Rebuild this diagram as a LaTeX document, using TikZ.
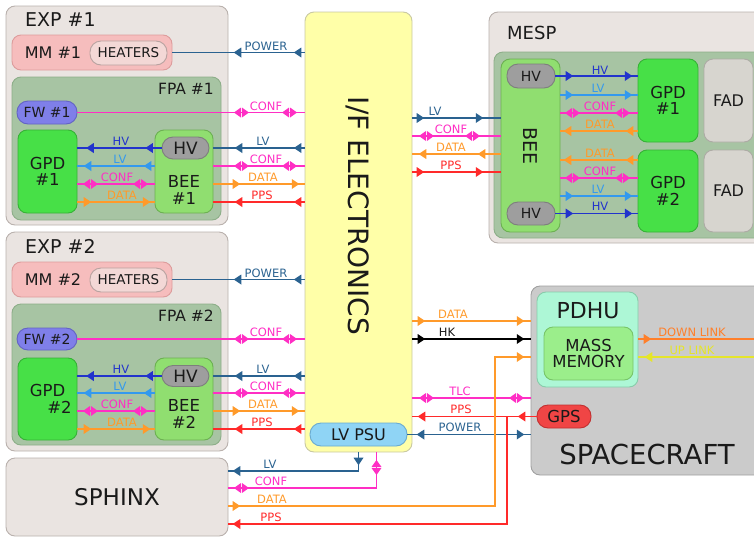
\documentclass[tikz,border=0pt]{standalone}
\usepackage{fontspec}
\setmainfont{DejaVu Sans}
\usetikzlibrary{decorations.markings}
\definecolor{cexp}{HTML}{EAE4E1}\definecolor{cexpd}{HTML}{B9B1AD}
\definecolor{cmm}{HTML}{F6BDBD}\definecolor{cmmd}{HTML}{DD9C9C}
\definecolor{cheat}{HTML}{F3D8D6}\definecolor{cheatd}{HTML}{B8A2A0}
\definecolor{cfpa}{HTML}{A7C4A3}\definecolor{cfpad}{HTML}{8DAE89}
\definecolor{cfw}{HTML}{7F7FE9}\definecolor{cfwd}{HTML}{6363C4}
\definecolor{cgpd}{HTML}{47E047}\definecolor{cgpdd}{HTML}{36B236}
\definecolor{cbee}{HTML}{90DE70}\definecolor{cbeed}{HTML}{6CB052}
\definecolor{chvb}{HTML}{9E9E9E}\definecolor{chvbd}{HTML}{7E7E7E}
\definecolor{cife}{HTML}{FFFFA8}\definecolor{cifed}{HTML}{C9C9A2}
\definecolor{cpsu}{HTML}{8FD4F5}\definecolor{cpsud}{HTML}{6AAAD0}
\definecolor{cfad}{HTML}{D7D5CF}\definecolor{cfadd}{HTML}{ADABA5}
\definecolor{csc}{HTML}{CBCBCB}\definecolor{cscd}{HTML}{A0A0A0}
\definecolor{cpdhu}{HTML}{ADF7D6}\definecolor{cpdhud}{HTML}{88CCAA}
\definecolor{cmass}{HTML}{9BEE8B}\definecolor{cmassd}{HTML}{77C468}
\definecolor{cgps}{HTML}{F04545}\definecolor{cgpsd}{HTML}{C03030}
\definecolor{lpw}{HTML}{2A6290}\definecolor{lhv}{HTML}{2233CC}
\definecolor{llv}{HTML}{3399EE}\definecolor{lcf}{HTML}{FF2EC4}
\definecolor{ldt}{HTML}{FF9A2A}\definecolor{lpp}{HTML}{FF2A2A}
\definecolor{ldl}{HTML}{FF7F2A}\definecolor{lul}{HTML}{E5E52A}
\definecolor{ctxt}{HTML}{1A1A1A}
\newcommand\arF{\fill (3.8pt,0pt) -- (-3.8pt,5pt) -- (-3.8pt,-5pt) -- cycle;}
\newcommand\arB{\fill (-3.8pt,0pt) -- (3.8pt,5pt) -- (3.8pt,-5pt) -- cycle;}
\newcommand\arD{\fill (7.5pt,0pt) -- (0.5pt,5pt) -- (0.5pt,-5pt) -- cycle; \fill (-7.5pt,0pt) -- (-0.5pt,5pt) -- (-0.5pt,-5pt) -- cycle;}
\newcommand\fs[1]{\fontsize{#1}{#1}\selectfont}
\begin{document}
\begin{tikzpicture}[x=1pt,y=-1pt,
  box/.style={draw, rounded corners=9pt, inner sep=0pt, line width=0.9pt, text=ctxt},
  pill/.style={draw, rounded corners=11pt, inner sep=0pt, line width=0.9pt, text=ctxt},
  ln/.style={line width=1.8pt},
  mk/.style={postaction={decorate}, decoration={markings,#1}},
  lbl/.style={font=\fs{11.5}, anchor=south, inner sep=0pt},
  ttl/.style={inner sep=0pt, text=ctxt},
  pwl/.style={ln, color=lpw}, hvl/.style={ln, color=lhv}, lvl/.style={ln, color=llv},
  cfl/.style={ln, color=lcf}, dtl/.style={ln, color=ldt}, ppl/.style={ln, color=lpp},
  hkl/.style={ln, color=black}, dll/.style={ln, color=ldl}, ull/.style={ln, color=lul}]
\useasboundingbox (0,0) rectangle (754,536);
\clip (0,0) rectangle (754,536);
\foreach \v in {53,113,148,166,184,202,280,339,376,393,411,429,77,95,113,118,131,136,154,160,172,178,196,213,321,339,357,398,416,434,471,488,506,524}
  \coordinate (y\v) at (0,\v);
\coordinate (xdv) at (495,0);
\coordinate (ppsj) at (507,416);
\coordinate (dlend) at (754,339);
\coordinate (ulend) at (754,357);
% ---------- boxes ----------
\node[box, fill=cexp, draw=cexpd, minimum width=222, minimum height=219] (exp1) at (117,115.5) {};
\node[ttl, anchor=west, font=\fs{19}] (exp1l) at (25,20) {EXP \#1};
\node[box, fill=cmm, draw=cmmd, minimum width=160, minimum height=35] (mm1) at (92,52.5) {};
\node[ttl, font=\fs{16}] (mm1l) at (53,53) {MM \#1};
\node[pill, fill=cheat, draw=cheatd, minimum width=77, minimum height=24] (heat1) at (128.5,53) {\fs{13.5}HEATERS};
\node[box, fill=cfpa, draw=cfpad, minimum width=209, minimum height=143] (fpa1) at (116.5,148.5) {};
\node[ttl, anchor=east, font=\fs{15.5}] (fpa1l) at (214,89) {FPA \#1};
\node[pill, fill=cfw, draw=cfwd, minimum width=60, minimum height=23] (fw1) at (47,112.5) {\fs{14}FW \#1};
\node[box, fill=cgpd, draw=cgpdd, minimum width=59, minimum height=83, align=center, font=\fs{16.5}] (gpd1) at (47.5,171.5) {GPD\\\#1};
\node[box, fill=cbee, draw=cbeed, minimum width=58, minimum height=83] (bee1) at (184,171.5) {};
\node[pill, fill=chvb, draw=chvbd, minimum width=47, minimum height=22] (hv1) at (185.5,148) {\fs{17}HV};
\node[ttl, align=center, font=\fs{16.5}] (bee1t) at (184,190) {BEE\\\#1};
%
\node[box, fill=cexp, draw=cexpd, minimum width=222, minimum height=219] (exp2) at (117,341.5) {};
\node[ttl, anchor=west, font=\fs{19}] (exp2l) at (25,246) {EXP \#2};
\node[box, fill=cmm, draw=cmmd, minimum width=160, minimum height=35] (mm2) at (92,279.5) {};
\node[ttl, font=\fs{16}] (mm2l) at (53,280) {MM \#2};
\node[pill, fill=cheat, draw=cheatd, minimum width=77, minimum height=24] (heat2) at (128.5,280) {\fs{13.5}HEATERS};
\node[box, fill=cfpa, draw=cfpad, minimum width=209, minimum height=141] (fpa2) at (116.5,374.5) {};
\node[ttl, anchor=east, font=\fs{15.5}] (fpa2l) at (214,316) {FPA \#2};
\node[pill, fill=cfw, draw=cfwd, minimum width=60, minimum height=22] (fw2) at (47,339) {\fs{14}FW \#2};
\node[box, fill=cgpd, draw=cgpdd, minimum width=59, minimum height=82, align=center, font=\fs{16.5}] (gpd2) at (47.5,399) {GPD\\\hspace*{24pt}\#2};
\node[box, fill=cbee, draw=cbeed, minimum width=58, minimum height=82] (bee2) at (184,399) {};
\node[pill, fill=chvb, draw=chvbd, minimum width=47, minimum height=21] (hv2) at (185.5,376) {\fs{17}HV};
\node[ttl, align=center, font=\fs{16.5}] (bee2t) at (184,414) {BEE\\\#2};
%
\node[box, fill=cexp, draw=cexpd, minimum width=222, minimum height=78] (sphinx) at (117,497) {\fs{23}SPHINX};
%
\node[box, fill=cife, draw=cifed, minimum width=107, minimum height=440] (ife) at (358.5,232) {};
\node[ttl, rotate=-90, font=\fs{28}] (ifet) at (358,216) {I/F ELECTRONICS};
\node[pill, fill=cpsu, draw=cpsud, minimum width=97, minimum height=23] (lvpsu) at (358.5,434.5) {\fs{16}LV PSU};
%
\node[box, fill=cexp, draw=cexpd, minimum width=281, minimum height=231] (mesp) at (629.5,127.5) {};
\node[ttl, anchor=west, font=\fs{18}] (mespl) at (507,33) {MESP};
\node[box, fill=cfpa, draw=cfpad, minimum width=276, minimum height=186] (mespin) at (632,145) {};
\node[box, fill=cbee, draw=cbeed, minimum width=59, minimum height=173] (mbee) at (530.5,145.5) {};
\node[ttl, rotate=-90, font=\fs{19}] (mbeet) at (530,146) {BEE};
\node[pill, fill=chvb, draw=chvbd, minimum width=48, minimum height=24] (mhv1) at (531,76) {\fs{14}HV};
\node[pill, fill=chvb, draw=chvbd, minimum width=48, minimum height=23] (mhv2) at (531,213.5) {\fs{14}HV};
\node[box, fill=cgpd, draw=cgpdd, minimum width=60, minimum height=83, align=center, font=\fs{16.5}] (mgpd1) at (668,100.5) {GPD\\\#1};
\node[box, fill=cgpd, draw=cgpdd, minimum width=60, minimum height=82, align=center, font=\fs{16.5}] (mgpd2) at (668,191) {GPD\\\#2};
\node[box, fill=cfad, draw=cfadd, minimum width=49, minimum height=83, font=\fs{16}] (fad1) at (728.5,100.5) {FAD};
\node[box, fill=cfad, draw=cfadd, minimum width=49, minimum height=82, font=\fs{16}] (fad2) at (728.5,191) {FAD};
%
\node[box, fill=csc, draw=cscd, minimum width=239, minimum height=189] (sc) at (650.5,380.5) {};
\node[ttl, font=\fs{27.5}] (scl) at (647,454) {SPACECRAFT};
\node[box, fill=cpdhu, draw=cpdhud, minimum width=101, minimum height=95] (pdhu) at (587.5,339.5) {};
\node[ttl, font=\fs{22}] (pdhul) at (588,311) {PDHU};
\node[box, fill=cmass, draw=cmassd, minimum width=89, minimum height=53, align=center, font=\fs{16.5}] (mass) at (588.5,353.5) {MASS\\MEMORY};
\node[pill, fill=cgps, draw=cgpsd, minimum width=54, minimum height=23, font=\fs{16.5}] (gps) at (564,416.5) {GPS};
% ---------- EXP #1 connectors ----------
\draw[pwl, mk={mark=at position 65pt with {\arB}, mark=at position -7pt with {\arB}}] (mm1.east) -- (mm1.east -| ife.west);
\node[lbl, text=lpw] (t1) at (266,50.5) {POWER};
\draw[cfl, mk={mark=at position 164pt with {\arD}, mark=at position -15pt with {\arD}}] (fw1.east) -- (fw1.east -| ife.west);
\node[lbl, text=lcf] (t2) at (266,110.5) {CONF};
\draw[hvl, mk={mark=at position 12.5pt with {\arB}, mark=at position -12.5pt with {\arB}}] (gpd1.east |- hv1.west) -- (hv1.west);
\node[lbl, text=lhv] (t3) at (121,145.5) {HV};
\draw[lvl, mk={mark=at position 10pt with {\arB}, mark=at position -7pt with {\arB}}] (gpd1.east |- y166) -- (bee1.west |- y166);
\node[lbl, text=llv] (t4) at (120,163.5) {LV};
\draw[cfl, mk={mark=at position 13pt with {\arD}, mark=at position -14pt with {\arD}}] (gpd1.east |- y184) -- (bee1.west |- y184);
\node[lbl, text=lcf] (t5) at (117,181.5) {CONF};
\draw[dtl, mk={mark=at position 10pt with {\arF}, mark=at position -8pt with {\arF}}] (gpd1.east |- y202) -- (bee1.west |- y202);
\node[lbl, text=ldt] (t6) at (122,199.5) {DATA};
\draw[pwl, mk={mark=at position 25pt with {\arB}, mark=at position -7pt with {\arB}}] (bee1.east |- y148) -- (ife.west |- y148);
\node[lbl, text=lpw] (t7) at (263,145.5) {LV};
\draw[cfl, mk={mark=at position 28pt with {\arD}, mark=at position -15pt with {\arD}}] (bee1.east |- y166) -- (ife.west |- y166);
\node[lbl, text=lcf] (t8) at (266,163.5) {CONF};
\draw[dtl, mk={mark=at position 23pt with {\arF}, mark=at position -9pt with {\arF}}] (bee1.east |- y184) -- (ife.west |- y184);
\node[lbl, text=ldt] (t9) at (263,181.5) {DATA};
\draw[ppl, mk={mark=at position 25pt with {\arB}, mark=at position -7pt with {\arB}}] (bee1.east |- y202) -- (ife.west |- y202);
\node[lbl, text=lpp] (t10) at (262,199.5) {PPS};
% ---------- EXP #2 connectors ----------
\draw[pwl, mk={mark=at position 65pt with {\arB}, mark=at position -7pt with {\arB}}] (mm2.east) -- (mm2.east -| ife.west);
\node[lbl, text=lpw] (t11) at (266,277.5) {POWER};
\draw[cfl, mk={mark=at position 164pt with {\arD}, mark=at position -15pt with {\arD}}] (fw2.east) -- (fw2.east -| ife.west);
\node[lbl, text=lcf] (t12) at (266,336.5) {CONF};
\draw[hvl, mk={mark=at position 12.5pt with {\arB}, mark=at position -12.5pt with {\arB}}] (gpd2.east |- hv2.west) -- (hv2.west);
\node[lbl, text=lhv] (t13) at (121,373.5) {HV};
\draw[lvl, mk={mark=at position 10pt with {\arB}, mark=at position -7pt with {\arB}}] (gpd2.east |- y393) -- (bee2.west |- y393);
\node[lbl, text=llv] (t14) at (120,390.5) {LV};
\draw[cfl, mk={mark=at position 13pt with {\arD}, mark=at position -14pt with {\arD}}] (gpd2.east |- y411) -- (bee2.west |- y411);
\node[lbl, text=lcf] (t15) at (117,408.5) {CONF};
\draw[dtl, mk={mark=at position 10pt with {\arF}, mark=at position -8pt with {\arF}}] (gpd2.east |- y429) -- (bee2.west |- y429);
\node[lbl, text=ldt] (t16) at (122,426.5) {DATA};
\draw[pwl, mk={mark=at position 25pt with {\arB}, mark=at position -7pt with {\arB}}] (bee2.east |- y376) -- (ife.west |- y376);
\node[lbl, text=lpw] (t17) at (263,373.5) {LV};
\draw[cfl, mk={mark=at position 28pt with {\arD}, mark=at position -15pt with {\arD}}] (bee2.east |- y393) -- (ife.west |- y393);
\node[lbl, text=lcf] (t18) at (266,390.5) {CONF};
\draw[dtl, mk={mark=at position 23pt with {\arF}, mark=at position -9pt with {\arF}}] (bee2.east |- y411) -- (ife.west |- y411);
\node[lbl, text=ldt] (t19) at (263,408.5) {DATA};
\draw[ppl, mk={mark=at position 25pt with {\arB}, mark=at position -7pt with {\arB}}] (bee2.east |- y429) -- (ife.west |- y429);
\node[lbl, text=lpp] (t20) at (262,426.5) {PPS};
% ---------- MESP connectors ----------
\draw[pwl, mk={mark=at position 8pt with {\arF}, mark=at position -21pt with {\arF}}] (ife.east |- y118) -- (mbee.west |- y118);
\node[lbl, text=lpw] (t21) at (435,115.5) {LV};
\draw[cfl, mk={mark=at position 14pt with {\arD}, mark=at position -28pt with {\arD}}] (ife.east |- y136) -- (mbee.west |- y136);
\node[lbl, text=lcf] (t22) at (451,133.5) {CONF};
\draw[dtl, mk={mark=at position 10pt with {\arB}, mark=at position -19pt with {\arB}}] (ife.east |- y154) -- (mbee.west |- y154);
\node[lbl, text=ldt] (t23) at (451,151.5) {DATA};
\draw[ppl, mk={mark=at position 8pt with {\arF}, mark=at position -21pt with {\arF}}] (ife.east |- y172) -- (mbee.west |- y172);
\node[lbl, text=lpp] (t24) at (451,169.5) {PPS};
\draw[hvl, mk={mark=at position 14pt with {\arF}, mark=at position -9pt with {\arF}}] (mhv1.east) -- (mhv1.east -| mgpd1.west);
\node[lbl, text=lhv] (t25) at (600,74.5) {HV};
\draw[lvl, mk={mark=at position 9pt with {\arF}, mark=at position -9pt with {\arF}}] (mbee.east |- y95) -- (mgpd1.west |- y95);
\node[lbl, text=llv] (t26) at (598,92.5) {LV};
\draw[cfl, mk={mark=at position 12pt with {\arD}, mark=at position -15pt with {\arD}}] (mbee.east |- y113) -- (mgpd1.west |- y113);
\node[lbl, text=lcf] (t27) at (600,110.5) {CONF};
\draw[dtl, mk={mark=at position 7pt with {\arB}, mark=at position -8pt with {\arB}}] (mbee.east |- y131) -- (mgpd1.west |- y131);
\node[lbl, text=ldt] (t28) at (600,128.5) {DATA};
\draw[dtl, mk={mark=at position 7pt with {\arB}, mark=at position -8pt with {\arB}}] (mbee.east |- y160) -- (mgpd2.west |- y160);
\node[lbl, text=ldt] (t29) at (600,157.5) {DATA};
\draw[cfl, mk={mark=at position 12pt with {\arD}, mark=at position -15pt with {\arD}}] (mbee.east |- y178) -- (mgpd2.west |- y178);
\node[lbl, text=lcf] (t30) at (600,175.5) {CONF};
\draw[lvl, mk={mark=at position 9pt with {\arF}, mark=at position -9pt with {\arF}}] (mbee.east |- y196) -- (mgpd2.west |- y196);
\node[lbl, text=llv] (t31) at (598,193.5) {LV};
\draw[hvl, mk={mark=at position 14pt with {\arF}, mark=at position -9pt with {\arF}}] (mhv2.east) -- (mhv2.east -| mgpd2.west);
\node[lbl, text=lhv] (t32) at (600,210.5) {HV};
% ---------- spacecraft connectors ----------
\draw[dtl, mk={mark=at position 9pt with {\arF}, mark=at position -10pt with {\arF}}] (ife.east |- y321) -- (sc.west |- y321);
\node[lbl, text=ldt] (t33) at (453,318.5) {DATA};
\draw[hkl, mk={mark=at position 9pt with {\arF}, mark=at position -10pt with {\arF}}] (ife.east |- y339) -- (sc.west |- y339);
\node[lbl, text=ctxt] (t34) at (447,336.5) {HK};
\draw[cfl, mk={mark=at position 14pt with {\arD}, mark=at position -14pt with {\arD}}] (ife.east |- y398) -- (sc.west |- y398);
\node[lbl, text=lcf] (t35) at (460,395.5) {TLC};
\draw[ppl, mk={mark=at position 9pt with {\arB}, mark=at position -15pt with {\arB}}] (ife.east |- gps.west) -- (gps.west);
\node[lbl, text=lpp] (t36) at (461,413.5) {PPS};
\draw[pwl, mk={mark=at position 13pt with {\arB}, mark=at position -10pt with {\arF}}] (lvpsu.east) -- (lvpsu.east -| sc.west);
\node[lbl, text=lpw] (t37) at (460,431.5) {POWER};
\draw[dtl, mk={mark=at position 8pt with {\arF}, mark=at position -10pt with {\arF}}] (sphinx.east |- y506) -| (xdv |- y357) -- (sc.west |- y357);
\node[lbl, text=ldt] (t38) at (272,503.5) {DATA};
\draw[dll, mk={mark=at position 9pt with {\arF}}] (pdhu.east |- y339) -- (dlend);
\node[lbl, text=ldl] (t39) at (692,336.5) {DOWN LINK};
\draw[ull, mk={mark=at position -10pt with {\arF}}] (ulend) -- (pdhu.east |- y357);
\node[lbl, text=lul] (t40) at (692,354.5) {UP LINK};
% ---------- SPHINX connectors ----------
\draw[pwl, mk={mark=at position 9pt with {\arF}, mark=at position -8pt with {\arF}}] (ife.south) |- (sphinx.east |- y471);
\node[lbl, text=lpw] (t41) at (270,468.5) {LV};
\draw[cfl, mk={mark=at position 15pt with {\arD}, mark=at position -13pt with {\arD}}] ([xshift=18pt]ife.south) |- (sphinx.east |- y488);
\node[lbl, text=lcf] (t42) at (271,485.5) {CONF};
\draw[ppl, mk={mark=at position -8pt with {\arF}}] (ppsj) |- (sphinx.east |- y524);
\node[lbl, text=lpp] (t44) at (271,521.5) {PPS};
\end{tikzpicture}
\end{document}
